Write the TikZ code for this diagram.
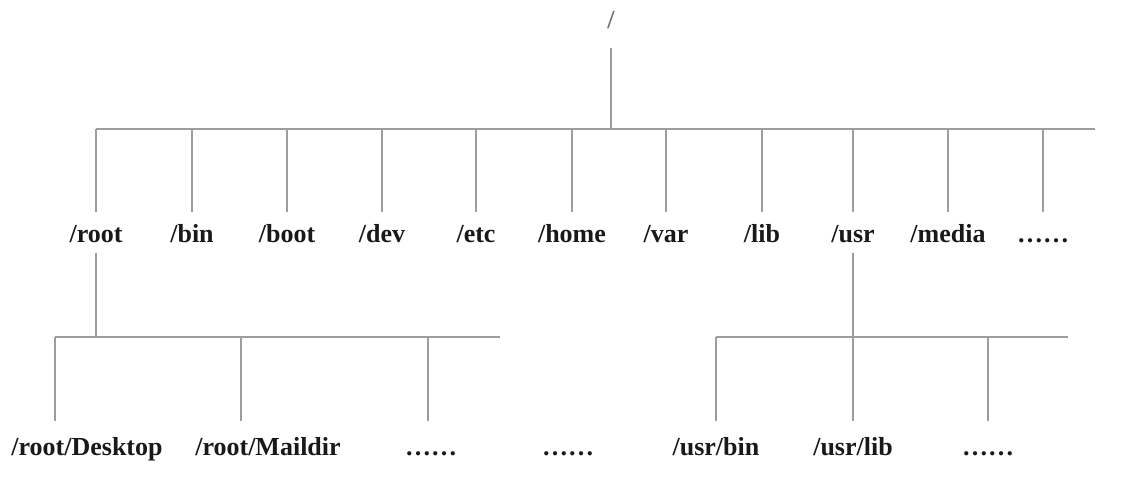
\documentclass[tikz,border=0pt]{standalone}
\usepackage{fontspec}
\setmainfont{Liberation Serif}
\tikzset{
    base/.style = {
        inner xsep=0pt, inner ysep=7.4pt, text height=0.72em, text depth=0.22em,
        font=\fontsize{13}{15}\selectfont\bfseries
    },
    % Directories
    dir/.style    = {base, text=black!90},
    leaf/.style   = {dir, inner ysep=9.5pt},
    topdir/.style = {base, text=black!55, inner ysep=7.5pt},
    % Tree lines
    tree/.style = {draw=black!38, line width=0.8pt}
}

\begin{document}
\begin{tikzpicture}[x=0.5pt, y=-0.5pt]
    \useasboundingbox (0,0) rectangle (1125,482);

    \node (rootfs) [topdir] at (611,23) {/};

    % first level
    \node (root)  [dir] at (96,237)   {/root};
    \node (bin)   [dir] at (192,237)  {/bin};
    \node (boot)  [dir] at (287,237)  {/boot};
    \node (dev)   [dir] at (382,237)  {/dev};
    \node (etc)   [dir] at (476,237)  {/etc};
    \node (home)  [dir] at (572,237)  {/home};
    \node (var)   [dir] at (666,237)  {/var};
    \node (lib)   [dir] at (762,237)  {/lib};
    \node (usr)   [dir] at (853,237)  {/usr};
    \node (media) [dir] at (948,237)  {/media};
    \node (more)  [dir] at (1043,237) {……};

    % second level
    \node (desktop)  [leaf] at (87,450)  {/root/Desktop};
    \node (maildir)  [leaf] at (268,450) {/root/Maildir};
    \node (rmore)    [leaf] at (431,450) {……};
    \node (rmore2)   [leaf] at (568,450) {……};
    \node (usrbin)   [leaf] at (716,450) {/usr/bin};
    \node (usrlib)   [leaf] at (853,450) {/usr/lib};
    \node (umore)    [leaf] at (988,450) {……};

    \coordinate (bus) at (611,129);
    \coordinate (busL) at (96,129);
    \coordinate (busR) at (1095,129);
    \coordinate (rbusL) at (55,337);
    \coordinate (rbusR) at (500,337);
    \coordinate (rjoin) at (241,337);
    \coordinate (rjoin2) at (428,337);
    \coordinate (ubusL) at (716,337);
    \coordinate (ubusR) at (1068,337);
    \coordinate (ujoin) at (988,337);

    \draw [tree] (rootfs.south) -- (bus);
    \draw [tree] (busL) -- (busR);
    \foreach \d in {root, bin, boot, dev, etc, home, var, lib, usr, media, more}
        \draw [tree] (bus -| \d) -- (\d.north);

    \draw [tree, shorten <=-4.5pt] (root.south) -- (root.south |- rbusL);
    \draw [tree] (rbusL) -- (rbusR);
    \draw [tree] (rbusL) -- (rbusL |- desktop.north);
    \draw [tree] (rjoin) -- (rjoin |- maildir.north);
    \draw [tree] (rjoin2) -- (rjoin2 |- rmore.north);

    \draw [tree, shorten <=-4.5pt] (usr.south) -- (usr.south |- ubusL);
    \draw [tree] (ubusL) -- (ubusR);
    \draw [tree] (ubusL) -- (usrbin.north);
    \draw [tree] (usr.south |- ubusL) -- (usrlib.north);
    \draw [tree] (ujoin) -- (umore.north);
\end{tikzpicture}
\end{document}
